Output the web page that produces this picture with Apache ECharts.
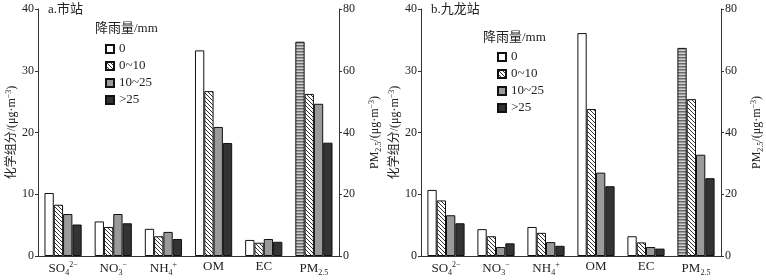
<!DOCTYPE html>
<html>
<head>
<meta charset="utf-8">
<script src="https://cdn.jsdelivr.net/npm/echarts@6/dist/echarts.min.js"></script>
<style>
html, body { margin: 0; padding: 0; background: #fff; }
#main { width: 766px; height: 280px; }
</style>
</head>
<body>
<div id="main"></div>
<script>
var chart = echarts.init(document.getElementById('main'), null, { renderer: 'canvas' });

// 分类与数据
var categories = ['SO4', 'NO3', 'NH4', 'OM', 'EC', 'PM2.5'];
var rainNames = ['0', '0~10', '10~25', '>25'];
var leftTicks = [0, 10, 20, 30, 40];
var rightTicks = [0, 20, 40, 60, 80];

// a.市站 (SO4, NO3, NH4, OM, EC)
var shi_0 = [10.2, 5.6, 4.4, 33.3, 2.6];
var shi_10 = [8.3, 4.7, 3.2, 26.7, 2.15];
var shi_25 = [6.8, 6.8, 3.9, 20.9, 2.75];
var shi_gt25 = [5.1, 5.3, 2.75, 18.3, 2.3];
var shi_pm = [69.4, 52.5, 49.3, 36.7];

// b.九龙站
var jl_0 = [10.7, 4.35, 4.7, 36.1, 3.2];
var jl_10 = [9.0, 3.2, 3.75, 23.8, 2.2];
var jl_25 = [6.6, 1.45, 2.25, 13.5, 1.45];
var jl_gt25 = [5.3, 2.05, 1.65, 11.3, 1.2];
var jl_pm = [67.4, 50.8, 32.8, 25.2];

var FONT = '"Liberation Serif", "Times New Roman", "Noto Sans CJK SC", serif';
var TXT = '#222';

function makePattern(draw, w, h) {
    var c = document.createElement('canvas');
    c.width = w; c.height = h;
    var ctx = c.getContext('2d');
    draw(ctx);
    return { image: c, repeat: 'repeat' };
}
var hatch = makePattern(function (ctx) {
    ctx.fillStyle = '#fff';
    ctx.fillRect(0, 0, 4, 4);
    ctx.strokeStyle = '#333';
    ctx.lineWidth = 1;
    ctx.beginPath();
    ctx.moveTo(-1, -1); ctx.lineTo(5, 5);
    ctx.moveTo(3, -1); ctx.lineTo(5, 1);
    ctx.moveTo(-1, 3); ctx.lineTo(1, 5);
    ctx.stroke();
}, 4, 4);
var stripes = makePattern(function (ctx) {
    ctx.fillStyle = '#d0d0d0';
    ctx.fillRect(0, 0, 4, 3);
    ctx.fillStyle = '#6a6a6a';
    ctx.fillRect(0, 0, 4, 1.5);
}, 4, 3);

var fills = ['#ffffff', hatch, '#9a9a9a', '#333333'];
var pmFills = [stripes, hatch, '#9a9a9a', '#333333'];

var richLabel = {
    b: { fontFamily: FONT, fontSize: 13, color: TXT },
    sub: { fontFamily: FONT, fontSize: 8, color: TXT, padding: [9, 0, 0, 0] },
    sup: { fontFamily: FONT, fontSize: 8, color: TXT, padding: [0, 0, 7, 0] }
};
var richName = {
    b: { fontFamily: FONT, fontSize: 12, color: TXT },
    sub: { fontFamily: FONT, fontSize: 8, color: TXT, padding: [8, 0, 0, 0] },
    sup: { fontFamily: FONT, fontSize: 8, color: TXT, padding: [0, 0, 6, 0] }
};
function catLabel(v) {
    if (v == 'SO4') return '{b|SO}{sub|4}{sup|2−}';
    if (v == 'NO3') return '{b|NO}{sub|3}{sup|−}';
    if (v == 'NH4') return '{b|NH}{sub|4}{sup|+}';
    if (v == 'PM2.5') return '{b|PM}{sub|2.5}';
    return '{b|' + v + '}';
}

function panel(gi, left, width, s0, s10, s25, sgt, pm) {
    var xa = gi * 2, ya = gi * 2;
    var xAxes = [
        {
            gridIndex: gi, type: 'category', data: categories,
            axisLine: { lineStyle: { color: '#333', width: 1 } },
            axisTick: { show: false },
            axisLabel: { margin: 4, interval: 0, formatter: catLabel, rich: richLabel }
        },
        { gridIndex: gi, type: 'category', data: categories, show: false }
    ];
    var yAxes = [
        {
            gridIndex: gi, type: 'value', position: 'left', min: leftTicks[0], max: leftTicks[4], interval: 10,
            name: '{b|化学组分/(μg·m}{sup|−3}{b|)}',
            nameLocation: 'middle', nameRotate: 90, nameGap: 16,
            nameTextStyle: { rich: richName },
            axisLine: { show: true, lineStyle: { color: '#333' } },
            axisTick: { show: true, length: 3, lineStyle: { color: '#333' } },
            axisLabel: { margin: 4, fontFamily: FONT, fontSize: 12, color: TXT },
            splitLine: { show: false }
        },
        {
            gridIndex: gi, type: 'value', position: 'right', min: rightTicks[0], max: rightTicks[4], interval: 20,
            name: '{b|PM}{sub|2.5}{b|/(μg·m}{sup|−3}{b|)}',
            nameLocation: 'middle', nameRotate: 90, nameGap: 28,
            nameTextStyle: { rich: richName },
            axisLine: { show: true, lineStyle: { color: '#333' } },
            axisTick: { show: true, length: 3, lineStyle: { color: '#333' } },
            axisLabel: { margin: 4, fontFamily: FONT, fontSize: 12, color: TXT },
            splitLine: { show: false }
        }
    ];
    var groups = [s0, s10, s25, sgt];
    var series = [];
    for (var i = 0; i < 4; i++) {
        series.push({
            name: rainNames[i], type: 'bar', xAxisIndex: xa, yAxisIndex: ya,
            barWidth: 9.3, barGap: '0%',
            itemStyle: { color: fills[i], borderColor: '#111', borderWidth: 1 },
            data: groups[i].concat(['-'])
        });
    }
    for (var i = 0; i < 4; i++) {
        series.push({
            name: rainNames[i], type: 'bar', xAxisIndex: xa + 1, yAxisIndex: ya + 1,
            barWidth: 9.3, barGap: '0%',
            itemStyle: { color: pmFills[i], borderColor: '#111', borderWidth: 1 },
            data: ['-', '-', '-', '-', '-', pm[i]]
        });
    }
    return {
        grid: { left: left, top: 9, width: width, height: 247 },
        xAxis: xAxes, yAxis: yAxes, series: series
    };
}

var p1 = panel(0, 38, 301, shi_0, shi_10, shi_25, shi_gt25, shi_pm);
var p2 = panel(1, 421, 305, jl_0, jl_10, jl_25, jl_gt25, jl_pm);

function legendAt(left, top) {
    return {
        data: rainNames, orient: 'vertical', left: left, top: top, padding: 0,
        itemWidth: 8, itemHeight: 8, itemGap: 3,
        icon: 'rect', selectedMode: false,
        textStyle: { fontFamily: FONT, fontSize: 13, color: TXT, lineHeight: 14 }
    };
}

var titleStyle = { fontFamily: FONT, fontSize: 13, fontWeight: 'normal', color: TXT };
chart.setOption({
    animation: false,
    title: [
        { text: 'a.市站', left: 48, top: 3, padding: 0, textStyle: titleStyle },
        { text: 'b.九龙站', left: 431, top: 3, padding: 0, textStyle: titleStyle },
        { text: '降雨量/mm', left: 95, top: 22, padding: 0, textStyle: titleStyle },
        { text: '降雨量/mm', left: 483, top: 31, padding: 0, textStyle: titleStyle }
    ],
    legend: [legendAt(105, 42), legendAt(497, 50)],
    grid: [p1.grid, p2.grid],
    xAxis: p1.xAxis.concat(p2.xAxis),
    yAxis: p1.yAxis.concat(p2.yAxis),
    series: p1.series.concat(p2.series)
});
</script>
</body>
</html>
